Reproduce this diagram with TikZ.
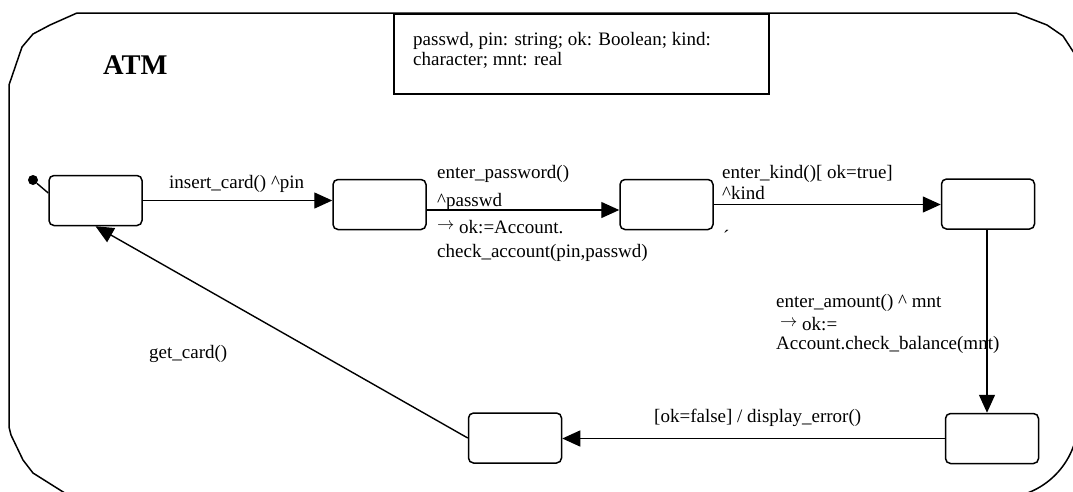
\documentclass[tikz,border=0pt]{standalone}
\usepackage{fontspec}
\setmainfont{Liberation Serif}
\usetikzlibrary{arrows.meta}

\newcommand{\smallarrow}{\smash{\raisebox{4pt}{\fontsize{16}{16}\selectfont$\rightarrow$}}}

\begin{document}
\begin{tikzpicture}[x=1pt,y=-1pt,
  outline/.style={line width=1.5pt, line join=round},
  state/.style={draw, line width=1.5pt, rounded corners=5pt,
    minimum width=93pt, minimum height=50pt, inner sep=0pt},
  trans/.style={line width=1.4pt, -{Triangle[length=18pt,width=16pt]}},
  lbl/.style={anchor=base west, inner sep=0pt,
    font=\fontsize{19}{22}\selectfont}]

\useasboundingbox (0,0) rectangle (1073,491);
\clip (0,0) rectangle (1073,491);

% enclosing ATM superstate
\draw[outline] (1076,56) -- (1063,36) -- (1047,25) -- (1016,13) -- (77,13)
  -- (50,25) -- (33,34) -- (22,47) -- (9,85) -- (9,427) -- (11,435)
  -- (23,460) -- (33,473) -- (60,490) -- (76,500);
\draw[outline] (1078,400) -- (1078,420) .. controls (1078,463) and (1043,498) .. (1000,498);

\node[lbl, font=\fontsize{28.5}{30}\selectfont\bfseries] (atm) at (103,74) {ATM};

% variable declarations
\node (note) [draw, line width=1.5pt, anchor=north west, minimum width=375pt,
  minimum height=80pt, inner sep=0pt] at (393,13) {};
\node[lbl] (decl1) at (413,45) {passwd, pin: string; ok: Boolean; kind:};
\node[lbl] (decl2) at (413,65) {character; mnt: real};

% states
\node[state] (s1) at (95.5,200.5) {};
\node[state] (s2) at (379.5,204.5) {};
\node[state] (s3) at (666.5,204.5) {};
\node[state] (s4) at (988,204) {};
\node[state] (s5) at (992,438.5) {};
\node[state] (s6) at (515,438) {};

% initial pseudostate
\node[circle, fill, inner sep=0pt, minimum size=10pt] (init) at (33,180) {};
\draw[line width=1.4pt] (init) -- ([yshift=7.5pt]s1.west);

% transitions
\draw[trans] (s1.east) -- (s1.east -| s2.west);
\draw[trans] ([yshift=-5.5pt]s2.east) -- ([yshift=-5.5pt]s3.west);
\draw[trans] (s3.east) -- (s3.east -| s4.west);
\draw[trans] ([xshift=-1pt]s4.south) -- ([xshift=-1pt]s4.south |- s5.north);
\draw[trans] (s5.west) -- (s5.west -| s6.east);
\draw[trans] (s6.west) -- (s1.south);

% transition labels
\node[lbl] (t1) at (169,188) {insert\_card() \^{}pin};

\node[lbl] (t2a) at (437,178) {enter\_password()};
\node[lbl] (t2b) at (437,206) {\^{}passwd};
\node[lbl] (t2c) at (437,233) {\smallarrow{} ok:=Account.};
\node[lbl] (t2d) at (437,257) {check\_account(pin,passwd)};

\node[lbl] (t3a) at (722,178) {enter\_kind()[ ok=true]};
\node[lbl] (t3b) at (722,199) {\^{}kind};
\node[lbl] (t3c) at (723,243) {´};

\node[lbl] (t4a) at (776,307) {enter\_amount() \^{} mnt};
\node[lbl] (t4b) at (780,330) {\smallarrow{} ok:=};
\node[lbl] (t4c) at (776,349) {Account.check\_balance(mnt)};

\node[lbl] (t5) at (654,422) {[ok=false] / display\_error()};
\node[lbl] (t6) at (149,358) {get\_card()};

\end{tikzpicture}
\end{document}
